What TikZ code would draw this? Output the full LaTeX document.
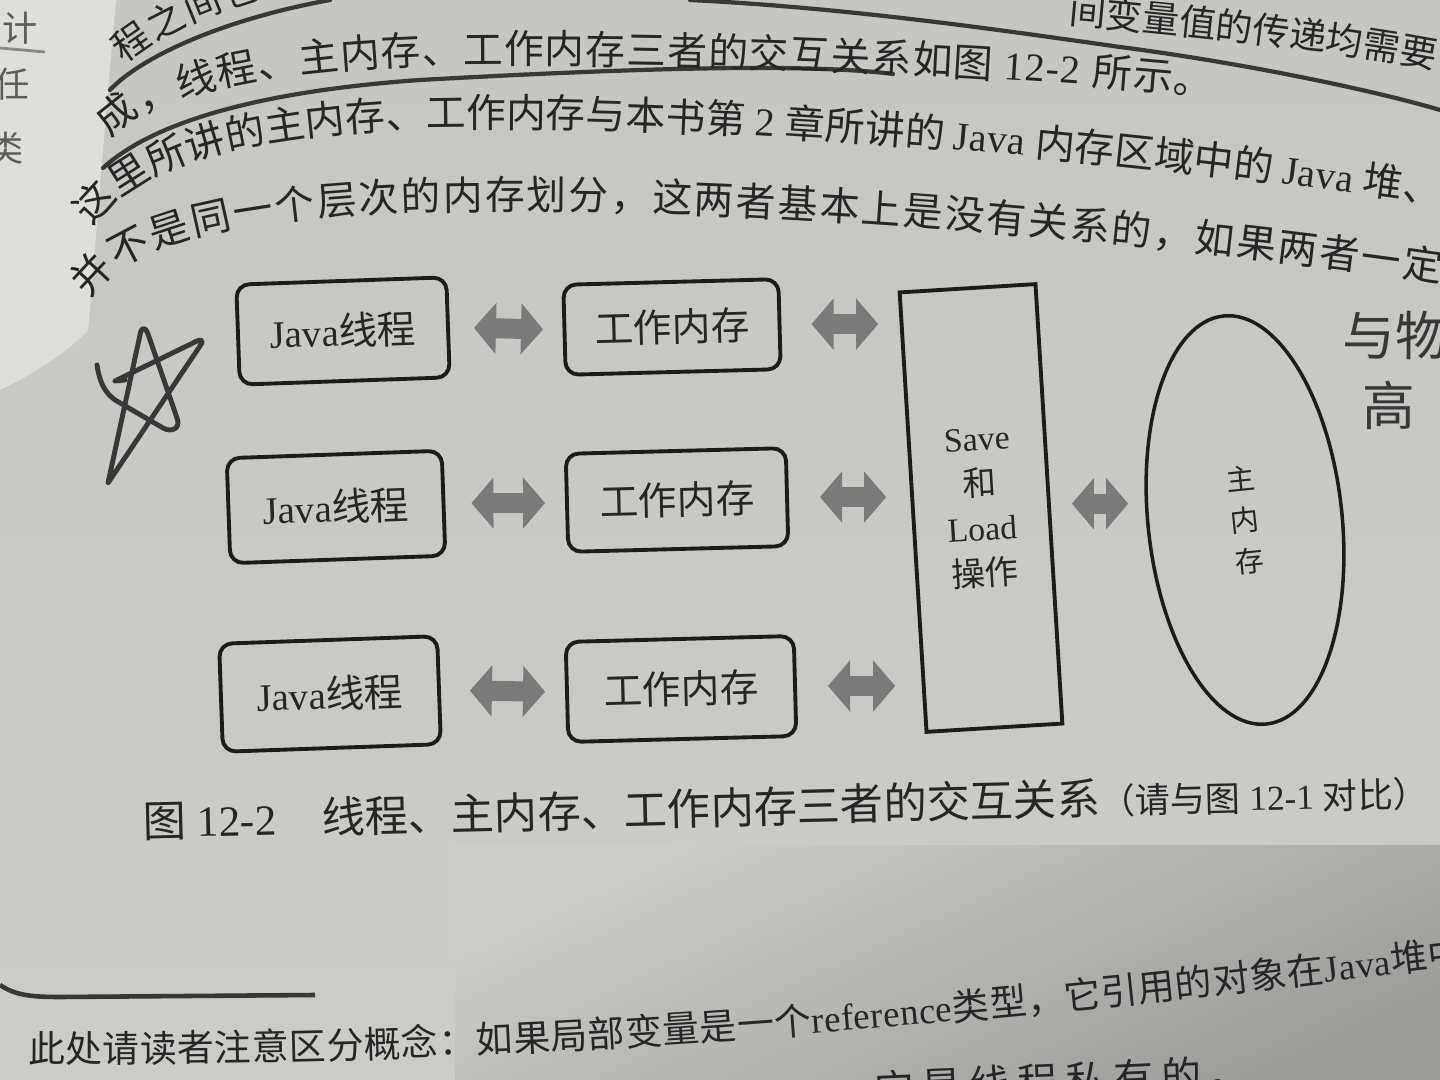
\documentclass[tikz,border=0pt]{standalone}
\usepackage{fontspec}
\setmainfont{Liberation Serif}
\newfontfamily\cjk{Noto Sans CJK SC}
\usetikzlibrary{arrows.meta,shapes.geometric,decorations.text}
\definecolor{ink}{HTML}{1C1C1C}
\definecolor{inkt}{HTML}{262626}
\definecolor{agray}{HTML}{7A7A7A}
\definecolor{penink}{HTML}{383838}
\definecolor{bgtop}{HTML}{C6C6C3}
\definecolor{bgmid}{HTML}{D8D8D5}
\definecolor{bgbot}{HTML}{CBCBC8}
\definecolor{bgshade}{HTML}{CDCDCA}
\definecolor{bgdark}{HTML}{9C9C9A}
\definecolor{leftpage}{HTML}{DEDEDB}
\newcommand{\zh}[1]{{\cjk #1}}
\newcommand{\bzh}{\fontsize{11.3}{13}\cjk}
\newcommand{\ben}{\fontsize{11.3}{13}\rmfamily}
\newcommand{\fzh}{\fontsize{10.5}{12}\cjk}
\newcommand{\fen}{\fontsize{10.5}{12}\rmfamily}
\newcommand{\szh}{\fontsize{10}{12}\cjk}
\tikzset{
 rbox/.style={draw=ink, line width=1.1pt, rounded corners=0.13cm, inner sep=0pt, text=inkt, font=\fontsize{11}{13}\selectfont},
 fatarrow/.style={draw=agray, line width=0.2cm, {Triangle[length=0.22cm,width=0.5cm]}-{Triangle[length=0.22cm,width=0.5cm]}},
 pen/.style={draw=penink, line width=1.2pt, line cap=round, line join=round},
 hand/.style={text=penink, font=\fontsize{15}{17}\cjk, inner sep=0pt, anchor=west},
}
\begin{document}
\begin{tikzpicture}[x=0.01cm,y=-0.01cm]
\useasboundingbox (0,0) rectangle (1440,1080);
\clip (0,0) rectangle (1440,1080);
% page background
\fill[top color=bgtop, middle color=bgmid, bottom color=bgbot] (0,0) rectangle (1440,1080);
\fill[top color=bgshade, bottom color=bgdark, shading angle=25] (455,845) rectangle (1440,1080);
% left page strip
\fill[leftpage] (0,0) -- (116,0) .. controls (105,120) and (95,250) .. (88,330) .. controls (60,360) and (20,380) .. (0,390) -- cycle;
\node[font=\szh, text=inkt!75] (lp1) at (20,28) {计};
\node[font=\szh, text=inkt!75] (lp2) at (12,84) {任};
\node[font=\szh, text=inkt!75] (lp3) at (6,148) {类};
\draw[penink!60, line width=0.8pt] (0,48) -- (45,52);

% pen underlines
\draw[pen] (110,90) .. controls (140,58) and (220,20) .. (330,0);
\draw[pen] (103,168) .. controls (150,125) and (250,92) .. (420,80) .. controls (600,70) and (800,62) .. (893,74);
\draw[pen] (690,0) .. controls (850,8) and (1000,30) .. (1120,47) .. controls (1250,64) and (1380,92) .. (1440,110);

% body text lines
\path[decorate, decoration={text along path, text align=fit to path, text color=inkt, text={|\fzh|程之间也}}] (124,64) .. controls (150,42) and (195,18) .. (262,-2);
\path[decorate, decoration={text along path, text align=fit to path, text color=inkt, text={|\fzh|间变量值的传递均需要通}}] (1068,24) .. controls (1200,36) and (1350,52) .. (1440,70);
\path[decorate, decoration={text along path, text align=fit to path, text color=inkt, text={|\bzh|成，线程、主内存、工作内存三者的交互关系如图 |\ben|12-2 |\bzh|所示。}}] (112,140) .. controls (140,95) and (280,64) .. (480,64) .. controls (700,62) and (1000,74) .. (1212,96);
\path[decorate, decoration={text along path, text align=fit to path, text color=inkt, text={|\bzh|这里所讲的主内存、工作内存与本书第 |\ben|2 |\bzh|章所讲的 |\ben|Java |\bzh|内存区域中的 |\ben|Java |\bzh|堆、}}] (93,228) .. controls (130,170) and (230,135) .. (420,128) .. controls (700,122) and (1100,155) .. (1440,205);
\path[decorate, decoration={text along path, text align=fit to path, text color=inkt, text={|\bzh|并不是同一个层次的内存划分，这两者基本上是没有关系的，如果两者一定}}] (90,300) .. controls (120,245) and (230,215) .. (450,210) .. controls (750,205) and (1150,240) .. (1440,282);

% footnote
\draw[penink, line width=1.3pt] (0,985) .. controls (15,995) and (30,997) .. (60,997) -- (315,995);
\path[decorate, decoration={text along path, text align=fit to path, text color=inkt, text={|\fzh|此处请读者注意区分概念：如果局部变量是一个|\fen|reference|\fzh|类型，它引用的对象在|\fen|Java|\fzh|堆中}}] (28,1062) .. controls (500,1066) and (950,1030) .. (1465,965);
\path[decorate, decoration={text along path, text align=fit to path, text color=inkt, text={|\bzh|它是线程私有的。}}] (875,1104) -- (1250,1088);

% diagram nodes
\node[rbox, minimum width=2.10cm, minimum height=1.00cm, rotate=2] (j1) at (343,331) {Java\zh{线程}};
\node[rbox, minimum width=2.15cm, minimum height=1.05cm, rotate=2] (j2) at (336,507) {Java\zh{线程}};
\node[rbox, minimum width=2.18cm, minimum height=1.08cm, rotate=2] (j3) at (330,694) {Java\zh{线程}};
\node[rbox, minimum width=2.15cm, minimum height=0.90cm, rotate=1.5] (w1) at (672,327) {\zh{工作内存}};
\node[rbox, minimum width=2.20cm, minimum height=0.98cm, rotate=1.5] (w2) at (677,500) {\zh{工作内存}};
\node[rbox, minimum width=2.28cm, minimum height=1.00cm, rotate=1.5] (w3) at (681,689) {\zh{工作内存}};
\node[draw=ink, line width=1.1pt, minimum width=1.36cm, minimum height=4.40cm, inner sep=0pt, rotate=3.5, align=center, text=inkt, font=\fontsize{9.6}{12.8}\selectfont] (sl) at (981,508) {Save\\\zh{和}\\Load\\\zh{操作}};
\node[ellipse, draw=ink, line width=1pt, minimum width=1.94cm, minimum height=4.10cm, inner sep=0pt, rotate=6, align=center, text=inkt, font=\fontsize{8.2}{11.7}\cjk] (mm) at (1245,520) {主\\内\\存};

% connectors
\draw[fatarrow, shorten <=0.24cm, shorten >=0.195cm] (j1.east) -- (w1.west);
\draw[fatarrow, shorten <=0.26cm, shorten >=0.20cm] (j2.east) -- (w2.west);
\draw[fatarrow, shorten <=0.29cm, shorten >=0.20cm] (j3.east) -- (w3.west);
\draw[fatarrow, shorten <=0.30cm, shorten >=0.33cm] (w1.east) -- (w1.east -| sl.west);
\draw[fatarrow, shorten <=0.31cm, shorten >=0.25cm] (w2.east) -- (w2.east -| sl.west);
\draw[fatarrow, shorten <=0.31cm, shorten >=0.16cm] (w3.east) -- (w3.east -| sl.west);
\draw[fatarrow, shorten <=0.21cm, shorten >=0.185cm] (sl.east) -- (sl.east -| mm.west);

% hand-drawn star
\draw[pen, line width=1.4pt] (97,365) .. controls (100,385) and (106,393) .. (115,400) -- (163,428) .. controls (172,433) and (181,428) .. (177,418) -- (148,334) .. controls (145,326) and (141,327) .. (140,335) -- (108,483) -- (200,346) .. controls (204,341) and (202,339) .. (197,341) -- (115,381) -- (125,380);

% handwriting
\node[hand] (hw1) at (1342,335) {与物};
\node[hand] (hw2) at (1362,405) {高};

% caption
\node[anchor=base west, rotate=1.4, inner sep=0pt, text=inkt, font=\fontsize{12.3}{14}\selectfont] (cap) at (143,838) {\zh{图} 12-2\hspace{0.45cm}\zh{线程、主内存、工作内存三者的交互关系}{\fontsize{10}{12}\selectfont\zh{（请与图} 12-1 \zh{对比）}}};
\end{tikzpicture}
\end{document}
